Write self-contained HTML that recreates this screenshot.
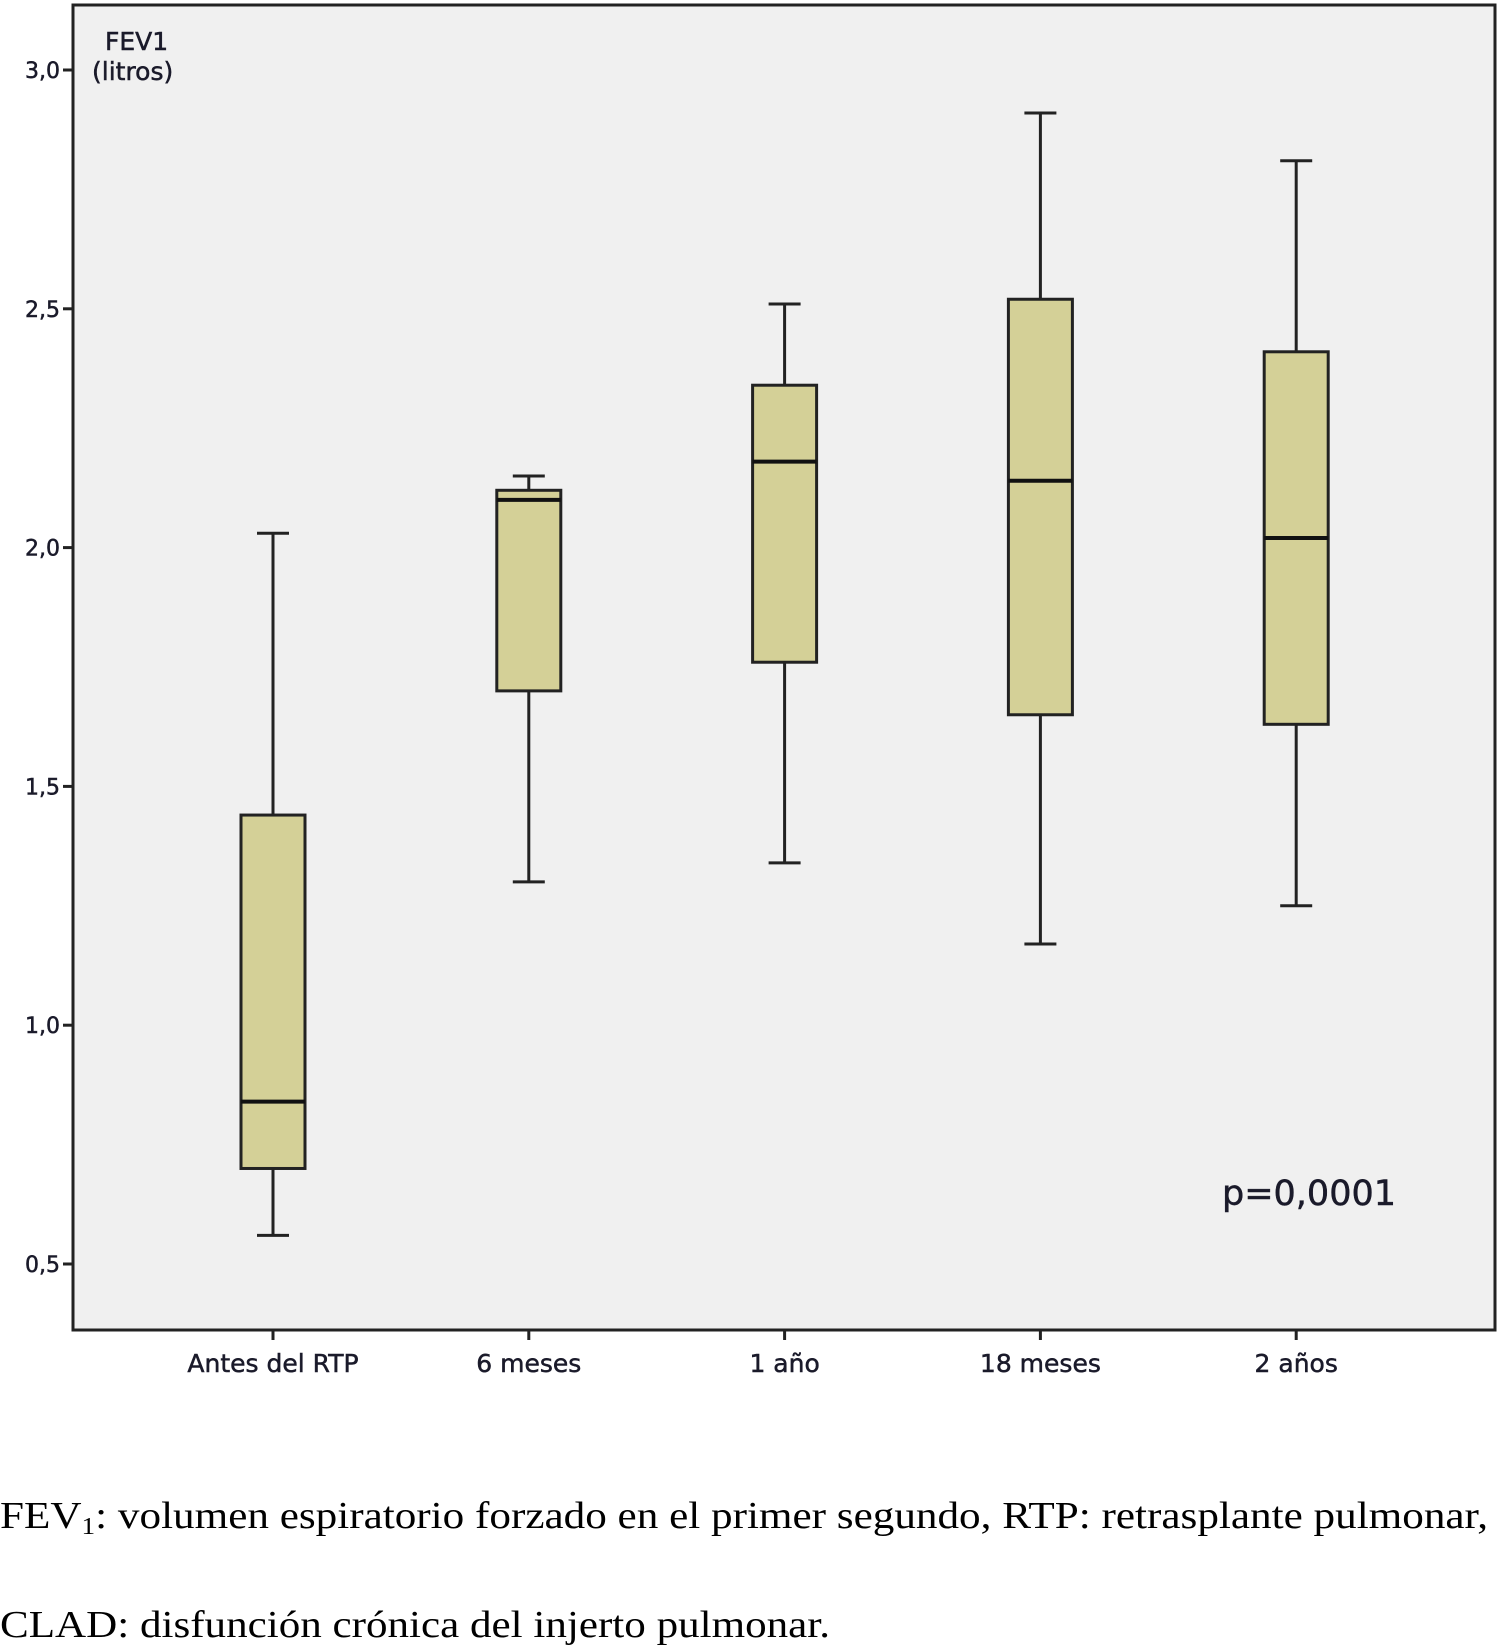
<!DOCTYPE html>
<html><head><meta charset="utf-8"><style>
html,body{margin:0;padding:0;background:#fff;width:1500px;height:1646px;overflow:hidden}
svg{display:block}
.ax{font-family:"DejaVu Sans","Liberation Sans",sans-serif;fill:#1a1a2a;stroke:#1a1a2a;stroke-width:0.5}
.cap{font-family:"Liberation Serif",serif;fill:#000}
</style></head><body>
<svg id="chart" width="1500" height="1646">
<rect x="73" y="5" width="1422" height="1325" fill="#f0f0f0" stroke="#222" stroke-width="3"/>
<g id="yaxis"></g>
<g id="xaxis"></g>
<g id="boxes"></g>
<text class="ax" x="105" y="50" font-size="25">FEV1</text>
<text class="ax" x="92" y="80" font-size="25">(litros)</text>
<text class="ax" x="1222" y="1205" font-size="35">p=0,0001</text>
<text class="cap" x="0" y="1528" font-size="38" textLength="1488" lengthAdjust="spacingAndGlyphs">FEV<tspan font-size="24" dy="6">1</tspan><tspan dy="-6">: volumen espiratorio forzado en el primer segundo, RTP: retrasplante pulmonar,</tspan></text>
<text class="cap" x="0" y="1637" font-size="38" textLength="830" lengthAdjust="spacingAndGlyphs">CLAD: disfunción crónica del injerto pulmonar.</text>
</svg>
<script>
const categories=["Antes del RTP","6 meses","1 año","18 meses","2 años"];
const whiskerLow=[0.56,1.30,1.34,1.17,1.25];
const q1=[0.70,1.70,1.76,1.65,1.63];
const median=[0.84,2.10,2.18,2.14,2.02];
const q3=[1.44,2.12,2.34,2.52,2.41];
const whiskerHigh=[2.03,2.15,2.51,2.91,2.81];
const yTicks=[0.5,1.0,1.5,2.0,2.5,3.0];
const yTickLabels=["0,5","1,0","1,5","2,0","2,5","3,0"];
const NS="http://www.w3.org/2000/svg";
function y(v){return 70+(3-v)*477.6;}
function x(i){return 273+i*255.8;}
function mk(t,a,p){const e=document.createElementNS(NS,t);for(const k in a)e.setAttribute(k,a[k]);p.appendChild(e);return e;}
const ya=document.getElementById('yaxis'),xa=document.getElementById('xaxis'),bx=document.getElementById('boxes');
yTicks.forEach((v,i)=>{
  const l=mk('line',{x1:63,x2:73,y1:y(v),y2:y(v),stroke:'#222','stroke-width':3},ya);
  
  
  const t=mk('text',{x:60,y:y(v)+8,'text-anchor':'end','font-size':22,class:'ax'},ya);
  t.textContent=yTickLabels[i];
  
  
});
categories.forEach((c,i)=>{
  const cx=x(i);
  const l=mk('line',{x1:cx,x2:cx,y1:1330,y2:1340,stroke:'#222','stroke-width':3},xa);
  
  
  const t=mk('text',{x:cx,y:1372,'text-anchor':'middle','font-size':25,class:'ax'},xa);
  t.textContent=c;
  
  
  const g=mk('g',{},bx);
  
  
  mk('line',{x1:cx,x2:cx,y1:y(whiskerHigh[i]),y2:y(q3[i]),stroke:'#222','stroke-width':3},g);
  mk('line',{x1:cx,x2:cx,y1:y(q1[i]),y2:y(whiskerLow[i]),stroke:'#222','stroke-width':3},g);
  mk('line',{x1:cx-16,x2:cx+16,y1:y(whiskerHigh[i]),y2:y(whiskerHigh[i]),stroke:'#222','stroke-width':3},g);
  mk('line',{x1:cx-16,x2:cx+16,y1:y(whiskerLow[i]),y2:y(whiskerLow[i]),stroke:'#222','stroke-width':3},g);
  mk('rect',{x:cx-32,y:y(q3[i]),width:64,height:y(q1[i])-y(q3[i]),fill:'#d4d097',stroke:'#222','stroke-width':3},g);
  mk('line',{x1:cx-32,x2:cx+32,y1:y(median[i]),y2:y(median[i]),stroke:'#111','stroke-width':4},g);
});
</script>
</body></html>
